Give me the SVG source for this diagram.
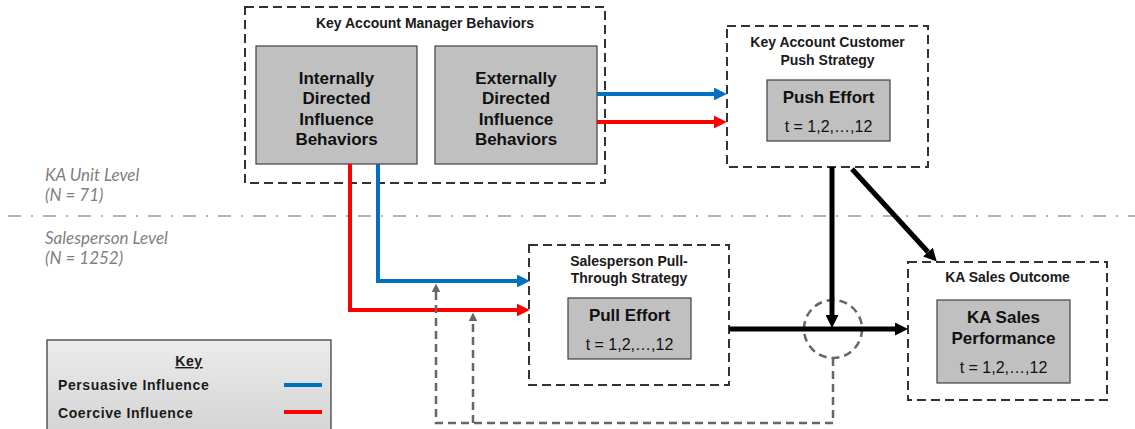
<svg xmlns="http://www.w3.org/2000/svg" width="1135" height="429" viewBox="0 0 1135 429">
  <defs>
    <style>
      .frame { fill: #ffffff; stroke: #333333; stroke-width: 2; stroke-dasharray: 9 5; }
      .box { fill: #c0c0c0; stroke: #404040; stroke-width: 1.2; }
      .hdr { font-family: "Liberation Sans", Arial, sans-serif; font-size: 14px; font-weight: bold; fill: #1a1a1a; text-anchor: middle; }
      .big { font-family: "Liberation Sans", Arial, sans-serif; font-size: 17px; font-weight: bold; fill: #111111; text-anchor: middle; }
      .tix { font-family: "Liberation Sans", Arial, sans-serif; font-size: 16px; fill: #111111; text-anchor: middle; }
      .lvl { font-family: "Lato", "Liberation Sans", sans-serif; font-size: 17px; font-style: italic; fill: #7f7f7f; }
      .key { font-family: "Liberation Sans", Arial, sans-serif; font-size: 14px; font-weight: bold; fill: #1a1a1a; letter-spacing: 0.6px; }
      .blue { stroke: #0070c0; stroke-width: 4; fill: none; }
      .red { stroke: #ff0000; stroke-width: 4; fill: none; }
      .blk { stroke: #000000; stroke-width: 5; fill: none; }
      .fb { stroke: #666666; stroke-width: 2.5; fill: none; stroke-dasharray: 8 5; }
    </style>
    <marker id="ahBlue" viewBox="0 0 10 10" refX="0" refY="5" markerWidth="3.2" markerHeight="3.2" orient="auto" markerUnits="strokeWidth">
      <path d="M0,0 L10,5 L0,10 z" fill="#0070c0"/>
    </marker>
    <marker id="ahRed" viewBox="0 0 10 10" refX="0" refY="5" markerWidth="3.2" markerHeight="3.2" orient="auto" markerUnits="strokeWidth">
      <path d="M0,0 L10,5 L0,10 z" fill="#ff0000"/>
    </marker>
    <marker id="ahBlk" viewBox="0 0 10 10" refX="0" refY="5" markerWidth="2.6" markerHeight="2.6" orient="auto" markerUnits="strokeWidth">
      <path d="M0,0 L10,5 L0,10 z" fill="#000000"/>
    </marker>
    <marker id="ahGray" viewBox="0 0 10 10" refX="0" refY="5" markerWidth="3.4" markerHeight="3.4" orient="auto" markerUnits="strokeWidth">
      <path d="M0,0 L10,5 L0,10 z" fill="#666666"/>
    </marker>
    <linearGradient id="keyFill" x1="0" y1="0" x2="0" y2="1">
      <stop offset="0" stop-color="#ececec"/>
      <stop offset="1" stop-color="#d2d2d2"/>
    </linearGradient>
  </defs>

  <rect width="1135" height="429" fill="#ffffff"/>

  <!-- level divider -->
  <line x1="8" y1="216" x2="1135" y2="216" stroke="#b4b4b4" stroke-width="2" stroke-dasharray="13 10 2 10"/>
  <g id="level-labels">
    <text class="lvl" x="45" y="181">KA Unit Level</text>
    <text class="lvl" x="45" y="201">(N = 71)</text>
    <text class="lvl" x="45" y="244">Salesperson Level</text>
    <text class="lvl" x="45" y="264">(N = 1252)</text>
  </g>

  <g id="kam-behaviors">
    <rect class="frame" x="245" y="7" width="360" height="176"/>
    <text class="hdr" x="425" y="28">Key Account Manager Behaviors</text>
  </g>
  <g id="internal">
    <rect class="box" x="256" y="46" width="161" height="118"/>
    <text class="big" x="336.5" y="84">Internally</text>
    <text class="big" x="336.5" y="104">Directed</text>
    <text class="big" x="336.5" y="125">Influence</text>
    <text class="big" x="336.5" y="145">Behaviors</text>
  </g>
  <g id="external">
    <rect class="box" x="435" y="46" width="162" height="118"/>
    <text class="big" x="516" y="84">Externally</text>
    <text class="big" x="516" y="104">Directed</text>
    <text class="big" x="516" y="125">Influence</text>
    <text class="big" x="516" y="145">Behaviors</text>
  </g>

  <g id="push-strategy">
    <rect class="frame" x="727" y="26" width="201" height="141"/>
    <text class="hdr" x="827.5" y="47">Key Account Customer</text>
    <text class="hdr" x="827.5" y="65">Push Strategy</text>
    <rect class="box" x="767" y="80" width="123" height="61"/>
    <text class="big" x="828.5" y="103">Push Effort</text>
    <text class="tix" x="828.5" y="132">t = 1,2,…,12</text>
  </g>

  <g id="pull-strategy">
    <rect class="frame" x="529" y="245" width="200" height="140"/>
    <text class="hdr" x="629" y="266">Salesperson Pull-</text>
    <text class="hdr" x="629" y="283">Through Strategy</text>
    <rect class="box" x="568" y="298" width="123" height="61"/>
    <text class="big" x="629.5" y="321">Pull Effort</text>
    <text class="tix" x="629.5" y="350">t = 1,2,…,12</text>
  </g>

  <g id="sales-outcome">
    <rect class="frame" x="908" y="262" width="199" height="138"/>
    <text class="hdr" x="1007.5" y="282">KA Sales Outcome</text>
    <rect class="box" x="937" y="300" width="133" height="83"/>
    <text class="big" x="1003.5" y="323">KA Sales</text>
    <text class="big" x="1003.5" y="344">Performance</text>
    <text class="tix" x="1003.5" y="373">t = 1,2,…,12</text>
  </g>

  <g id="interaction">
    <circle cx="833" cy="329" r="29" fill="none" stroke="#666666" stroke-width="2.5" stroke-dasharray="8 5"/>
  </g>

  <g id="connectors">
    <!-- external behaviors to push strategy -->
    <line class="blue" x1="597" y1="94" x2="714" y2="94" marker-end="url(#ahBlue)"/>
    <line class="red" x1="597" y1="122" x2="714" y2="122" marker-end="url(#ahRed)"/>
    <!-- internal behaviors to pull-through strategy -->
    <polyline class="blue" points="378,164 378,281 517,281" marker-end="url(#ahBlue)"/>
    <polyline class="red" points="350,164 350,310 517,310" marker-end="url(#ahRed)"/>
    <!-- effort to sales -->
    <line class="blk" x1="729" y1="329" x2="895" y2="329" marker-end="url(#ahBlk)"/>
    <line class="blk" x1="832" y1="167" x2="832" y2="315" marker-end="url(#ahBlk)"/>
    <line class="blk" x1="852" y1="169" x2="928" y2="252" marker-end="url(#ahBlk)"/>
    <!-- feedback loops -->
    <polyline class="fb" points="833,358 833,423 436,423 436,292" marker-end="url(#ahGray)"/>
    <line class="fb" x1="473" y1="423" x2="473" y2="321" marker-end="url(#ahGray)"/>
  </g>

  <g id="legend">
    <rect x="47" y="340" width="284" height="100" fill="url(#keyFill)" stroke="#333333" stroke-width="1.2"/>
    <text class="key" x="189" y="366" text-anchor="middle" font-size="17" text-decoration="underline">Key</text>
    <text class="key" x="58" y="390">Persuasive Influence</text>
    <text class="key" x="58" y="418">Coercive Influence</text>
    <line x1="284" y1="385" x2="322" y2="385" stroke="#0070c0" stroke-width="4"/>
    <line x1="284" y1="412" x2="322" y2="412" stroke="#ff0000" stroke-width="4"/>
  </g>
</svg>
